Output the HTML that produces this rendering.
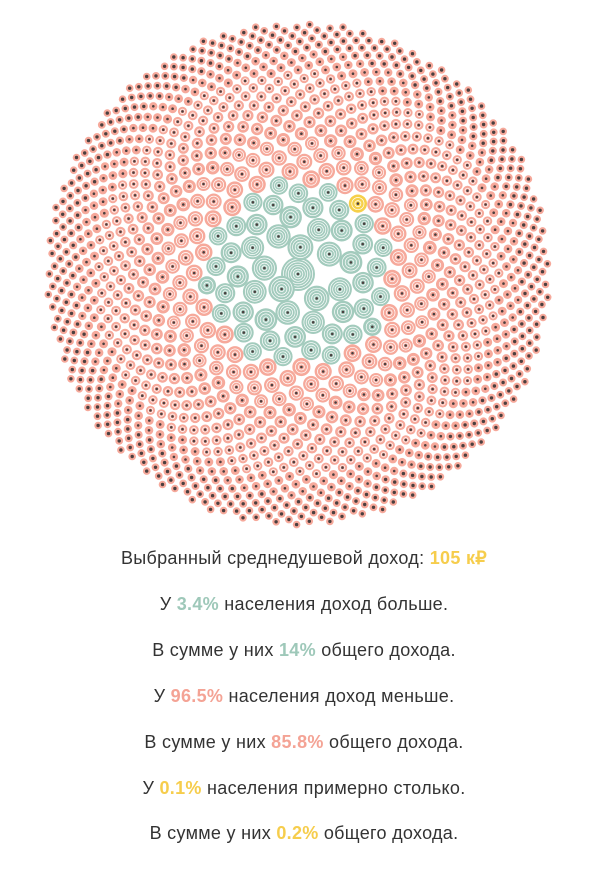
<!DOCTYPE html>
<html><head><meta charset="utf-8"><style>
body{margin:0;width:608px;height:877px;background:#fff;overflow:hidden;font-family:"Liberation Sans",sans-serif;}
svg{position:absolute;left:0;top:0}
.t{position:absolute;left:0;width:608px;text-align:center;font-size:18px;color:#333;letter-spacing:0.3px}
.y{color:#f6cd4c;font-weight:bold}.g{color:#9ec8b9;font-weight:bold}.p{color:#f4a395;font-weight:bold}
</style></head><body>
<svg id="s" width="608" height="540"></svg>
<div class="t" style="top:548px">Выбранный среднедушевой доход: <span class="y">105 к₽</span></div>
<div class="t" style="top:594px">У <span class="g">3.4%</span> населения доход больше.</div>
<div class="t" style="top:640px">В сумме у них <span class="g">14%</span> общего дохода.</div>
<div class="t" style="top:686px">У <span class="p">96.5%</span> населения доход меньше.</div>
<div class="t" style="top:732px">В сумме у них <span class="p">85.8%</span> общего дохода.</div>
<div class="t" style="top:778px">У <span class="y">0.1%</span> населения примерно столько.</div>
<div class="t" style="top:823px">В сумме у них <span class="y">0.2%</span> общего дохода.</div>
<script>
var cx=298,cy=274,RM=255,ga=Math.PI*(3-Math.sqrt(5));
var pts=[],acc=0,i=0;
while(true){
 var Rc=Math.sqrt(acc/Math.PI);
 var r=i==0?17:3.2+10.5*Math.exp(-Math.pow(Rc/130,1.6));
 var ar=(2*r+2.2)*(2*r+2.2)*0.9;
 var R=i==0?0:Math.sqrt((acc+ar/2)/Math.PI);
 if(R>RM-r)break;
 acc+=ar;var a=i*ga;
 pts.push([cx+R*Math.cos(a),cy+R*Math.sin(a),r,R]);i++;if(i>5000)break;
}
var N=pts.length;
var yi=0,bd=1e9;for(var i=0;i<N;i++){var d=(pts[i][0]-352)*(pts[i][0]-352)+(pts[i][1]-207)*(pts[i][1]-207);if(d<bd){bd=d;yi=i;}}
var h=[];
for(var i=0;i<N;i++){var p=pts[i],r=p[2];
var c=i==yi?'#f6d04a':(p[3]<92?'#a3cbbd':'#f6a99b');
var X=p[0].toFixed(1),Y=p[1].toFixed(1);
h.push('<circle cx="'+X+'" cy="'+Y+'" r="'+r.toFixed(1)+'" fill="'+c+'"/>');
var n=Math.floor(r/2.3);
for(var j=1;j<n;j++){h.push('<circle cx="'+X+'" cy="'+Y+'" r="'+(r*(n-j)/n).toFixed(1)+'" fill="none" stroke="#fff" stroke-width="0.7"/>');}
h.push('<circle cx="'+X+'" cy="'+Y+'" r="'+(r<4.2?1.7:1.3)+'" fill="#4a3f3f"/>');}
document.getElementById('s').innerHTML=h.join('');
</script>
</body></html>
